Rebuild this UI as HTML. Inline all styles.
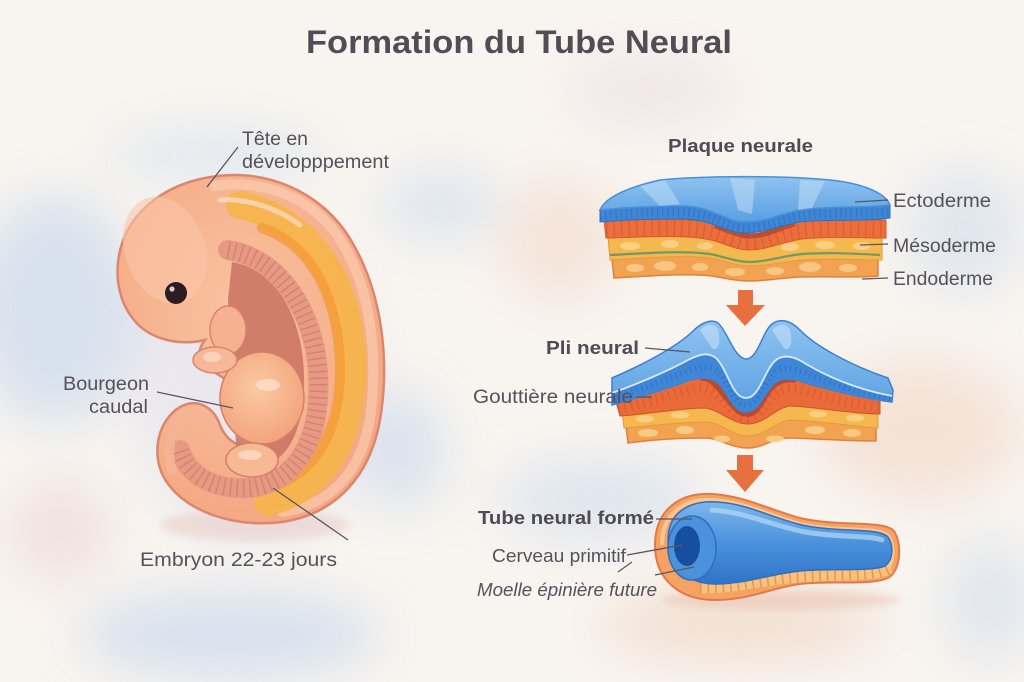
<!DOCTYPE html>
<html><head><meta charset="utf-8">
<style>
html,body{margin:0;padding:0;background:#f8f4ef;}
svg{display:block;}
text{font-family:"Liberation Sans",sans-serif;fill:#56515b;}
</style></head>
<body>
<svg width="1024" height="682" viewBox="0 0 1024 682" xmlns="http://www.w3.org/2000/svg">
<defs>
<filter id="blur" x="-50%" y="-50%" width="200%" height="200%"><feGaussianBlur stdDeviation="24"/></filter>
<filter id="sblur" x="-20%" y="-20%" width="140%" height="140%"><feGaussianBlur stdDeviation="4"/></filter>
<linearGradient id="blueTop" x1="0" y1="0" x2="0" y2="1"><stop offset="0" stop-color="#8ec3f0"/><stop offset="1" stop-color="#5a9fe2"/></linearGradient>
<linearGradient id="tubeG" x1="0" y1="0" x2="0" y2="1"><stop offset="0" stop-color="#7db6ec"/><stop offset="0.5" stop-color="#4b92dc"/><stop offset="1" stop-color="#2f74c8"/></linearGradient>
<radialGradient id="bodyG" cx="0.45" cy="0.4" r="0.7"><stop offset="0" stop-color="#f9c3a2"/><stop offset="1" stop-color="#f3a47e"/></radialGradient>
<radialGradient id="bellyG" cx="0.45" cy="0.4" r="0.6"><stop offset="0" stop-color="#fbcaa2"/><stop offset="1" stop-color="#f3a47c"/></radialGradient>
</defs>

<!-- watercolor background -->
<rect width="1024" height="682" fill="#f8f4ef"/>
<g filter="url(#blur)" opacity="0.85">
<ellipse cx="55" cy="310" rx="85" ry="115" fill="#d3dfee"/>
<ellipse cx="230" cy="635" rx="150" ry="45" fill="#d3dfee"/>
<ellipse cx="400" cy="450" rx="45" ry="60" fill="#d6e0ee"/>
<ellipse cx="440" cy="205" rx="60" ry="35" fill="#dbe4f0"/>
<ellipse cx="215" cy="155" rx="110" ry="25" fill="#dde6f0"/>
<ellipse cx="600" cy="500" rx="100" ry="40" fill="#dbe3ef"/>
<ellipse cx="965" cy="230" rx="60" ry="60" fill="#dde4ef"/>
<ellipse cx="990" cy="600" rx="45" ry="60" fill="#dde4ee"/>
<ellipse cx="60" cy="530" rx="50" ry="50" fill="#efdede"/>
<ellipse cx="920" cy="430" rx="100" ry="70" fill="#f4e0d3"/>
<ellipse cx="560" cy="240" rx="60" ry="60" fill="#f4e2d6"/>
<ellipse cx="740" cy="625" rx="140" ry="35" fill="#f2dccd"/>
<ellipse cx="650" cy="90" rx="80" ry="35" fill="#f0e4e7"/>
<ellipse cx="250" cy="380" rx="120" ry="160" fill="#e8e6ee"/>
</g>

<!-- title -->
<text x="306" y="53" font-size="32" font-weight="bold" textLength="426" lengthAdjust="spacingAndGlyphs" style="fill:#514c55">Formation du Tube Neural</text>

<!-- ================= EMBRYO ================= -->
<g>
<ellipse cx="255" cy="525" rx="95" ry="16" fill="#e7c9c2" opacity="0.5" filter="url(#sblur)"/>
<path d="M205,178 C262,166 322,190 352,242 C382,293 390,360 380,420 C370,476 336,514 282,522 C232,528 186,511 166,481 C150,456 157,421 180,407 C198,397 214,408 220,425 C226,440 238,448 252,447 L250,395 L214,372 C198,368 195,352 205,340 C180,346 150,340 134,320 C112,294 112,250 134,220 C154,194 180,183 205,178 Z" fill="url(#bodyG)" stroke="#db8670" stroke-width="2.5"/>
<!-- pale outer rim -->
<path d="M215,186 C266,178 318,200 344,246 C372,294 378,360 370,418 C362,470 332,505 282,512" fill="none" stroke="#fbd3bd" stroke-width="10" stroke-linecap="round" opacity="0.55"/>
<!-- yellow band -->
<path d="M240,205 C305,218 350,280 352,360 C354,430 328,488 268,502" fill="none" stroke="#f6b54a" stroke-width="28" stroke-linecap="round" opacity="0.9"/>
<path d="M262,228 C314,246 338,300 340,365 C341,428 318,474 268,488" fill="none" stroke="#f39a34" stroke-width="10" stroke-linecap="round" opacity="0.75"/>
<!-- inner cavity -->
<path d="M232,262 C278,270 304,320 304,380 C304,430 288,460 262,466 L236,445 L228,300 Z" fill="#c97260" opacity="0.85"/>
<!-- somite strip -->
<path d="M228,250 C280,258 314,312 318,372 C322,438 298,482 250,488 C214,490 188,476 180,450" fill="none" stroke="#e69a84" stroke-width="20" stroke-linecap="round"/>
<path d="M228,250 C280,258 314,312 318,372 C322,438 298,482 250,488 C214,490 188,476 180,450" fill="none" stroke="#c9705f" stroke-width="18" stroke-dasharray="1.5 5" opacity="0.55"/>
<!-- tail -->
<path d="M172,470 C165,448 172,420 190,414 C205,410 214,425 218,440" fill="none" stroke="#f5b497" stroke-width="10" stroke-linecap="round" opacity="0.8"/>
<!-- belly -->
<ellipse cx="262" cy="398" rx="42" ry="46" fill="url(#bellyG)" stroke="#d67e68" stroke-width="1.5"/>
<ellipse cx="268" cy="385" rx="12" ry="6" fill="#fde0cc" opacity="0.8"/>
<!-- lower bump -->
<ellipse cx="252" cy="460" rx="26" ry="17" fill="#f7b994" stroke="#d67e68" stroke-width="1.5"/>
<ellipse cx="250" cy="455" rx="12" ry="5" fill="#fcdcc6" opacity="0.8"/>
<!-- forelimb / arches -->
<ellipse cx="228" cy="330" rx="18" ry="24" fill="#f6b192" stroke="#d98470" stroke-width="1.5"/>
<ellipse cx="215" cy="360" rx="22" ry="13" fill="#f7b898" stroke="#d98470" stroke-width="1.5"/>
<ellipse cx="212" cy="357" rx="9" ry="5" fill="#fcd8c2" opacity="0.8"/>
<!-- head highlight -->
<ellipse cx="165" cy="250" rx="40" ry="55" fill="#fac6a8" opacity="0.6" transform="rotate(-20 165 250)"/>
<path d="M220,200 C250,198 280,210 300,225" fill="none" stroke="#fbe0cc" stroke-width="5" stroke-linecap="round" opacity="0.7"/>
<!-- eye -->
<circle cx="176" cy="293" r="11" fill="#2c1b20"/>
<circle cx="172" cy="289" r="2.6" fill="#fff" opacity="0.8"/>
</g>
<g stroke="#5a5560" stroke-width="1.3" fill="none">
<line x1="238" y1="147" x2="207" y2="187"/>
<line x1="157" y1="392" x2="233" y2="408"/>
<line x1="273" y1="488" x2="348" y2="540"/>
</g>
<text x="242" y="145" font-size="19" textLength="66" lengthAdjust="spacingAndGlyphs">Tête en</text>
<text x="242" y="168" font-size="19" textLength="147" lengthAdjust="spacingAndGlyphs">développpement</text>
<text x="63" y="390" font-size="19" textLength="86" lengthAdjust="spacingAndGlyphs">Bourgeon</text>
<text x="89" y="413" font-size="19" textLength="59" lengthAdjust="spacingAndGlyphs">caudal</text>
<text x="140" y="566" font-size="19" textLength="197" lengthAdjust="spacingAndGlyphs">Embryon 22-23 jours</text>

<!-- ================= PLAQUE NEURALE ================= -->
<text x="668" y="152" font-size="18" font-weight="bold" textLength="145" lengthAdjust="spacingAndGlyphs" style="fill:#4f4a53">Plaque neurale</text>
<g>
<path d="M612,259 C650,257 690,253 715,258 C730,262 740,265 750,265 C766,265 782,259 802,258 C832,256 862,258 878,258 L878,276 C860,278 830,276 800,277 C780,278 765,281 750,281 C735,281 725,278 712,276 C690,273 650,276 614,278 Z" fill="#f2a352" stroke="#e0803c" stroke-width="1.5"/>
<g fill="#f9cf8e" opacity="0.8">
<ellipse cx="635" cy="268" rx="9" ry="4"/><ellipse cx="665" cy="266" rx="11" ry="5"/><ellipse cx="700" cy="267" rx="8" ry="4"/><ellipse cx="735" cy="272" rx="10" ry="4"/><ellipse cx="775" cy="271" rx="9" ry="4"/><ellipse cx="810" cy="267" rx="11" ry="5"/><ellipse cx="848" cy="268" rx="9" ry="4"/>
</g>
<path d="M608,237 C650,236 690,233 715,240 C730,245 740,249 750,249 C766,249 782,241 802,238 C832,235 862,237 882,237 L882,260 C862,260 832,258 802,260 C782,262 766,266 750,266 C738,266 728,262 715,259 C690,254 650,258 610,260 Z" fill="#f5b84f" stroke="#e8973d" stroke-width="1"/>
<g fill="#fad48e" opacity="0.85">
<ellipse cx="630" cy="246" rx="10" ry="4"/><ellipse cx="670" cy="244" rx="9" ry="4"/><ellipse cx="705" cy="246" rx="8" ry="3.5"/><ellipse cx="790" cy="247" rx="9" ry="4"/><ellipse cx="825" cy="245" rx="10" ry="4"/><ellipse cx="862" cy="246" rx="9" ry="4"/>
</g>
<path d="M610,255 C650,253 690,250 715,255 C730,259 740,262 750,262 C766,262 782,256 802,254 C832,252 862,254 880,255" fill="none" stroke="#6f9a66" stroke-width="2.2"/>
<path d="M604,220 C650,219 690,217 715,224 C732,230 740,234 750,234 C766,234 782,224 802,221 C832,218 862,220 886,220 L886,238 C862,238 832,236 802,239 C782,242 766,250 750,250 C738,250 730,246 715,241 C690,234 650,237 606,238 Z" fill="#ec6e3d" stroke="#d35a30" stroke-width="1"/>
<path d="M606,229 C650,228 690,226 715,232 C732,238 740,242 750,242 C766,242 782,232 802,230 C832,227 862,229 886,229" fill="none" stroke="#c9542c" stroke-width="16" stroke-dasharray="1.5 6" opacity="0.5"/>
<path d="M715,226 C732,232 740,236 750,236 C766,236 782,227 795,224" fill="none" stroke="#a8412c" stroke-width="5" opacity="0.7"/>
<path d="M600,210 C620,208 650,206 680,206 C710,205 725,222 745,222 C765,222 780,214 800,210 C830,206 870,208 890,205 L890,218 C860,222 820,219 800,222 C780,225 765,233 745,233 C725,233 710,218 680,219 C650,219 620,220 600,222 Z" fill="#3f86d6" stroke="#2e6fc0" stroke-width="1"/>
<path d="M600,216 C620,214 650,212 680,212 C710,211 725,228 745,228 C765,228 780,220 800,216 C830,212 870,214 890,212" fill="none" stroke="#2c68b8" stroke-width="9" stroke-dasharray="1.2 4" opacity="0.5"/>
<path d="M600,210 C605,198 625,188 660,180 C700,176 780,175 830,180 C860,183 885,192 890,205 C870,208 830,206 800,210 C780,214 765,222 745,222 C725,222 710,205 680,206 C650,206 620,208 600,210 Z" fill="url(#blueTop)" stroke="#4a8fd8" stroke-width="1.5"/>
<g fill="#c6e0f7" opacity="0.5">
<path d="M640,186 L665,180 L680,204 L660,206 Z"/><path d="M730,178 L755,180 L752,214 L738,210 Z"/><path d="M800,180 L825,181 L812,208 L798,210 Z"/>
</g>
</g>
<g stroke="#5a5560" stroke-width="1.3" fill="none">
<line x1="855" y1="202" x2="888" y2="200"/>
<line x1="860" y1="245" x2="888" y2="244"/>
<line x1="862" y1="279" x2="888" y2="278"/>
</g>
<text x="893" y="207" font-size="19" textLength="98" lengthAdjust="spacingAndGlyphs">Ectoderme</text>
<text x="893" y="252" font-size="19" textLength="103" lengthAdjust="spacingAndGlyphs">Mésoderme</text>
<text x="893" y="285" font-size="19" textLength="100" lengthAdjust="spacingAndGlyphs">Endoderme</text>

<!-- arrow 1 -->
<path d="M738,290 L753,290 L753,305 L765,305 L745,326 L726,305 L738,305 Z" fill="#e8703f"/>

<!-- ================= PLI NEURAL ================= -->
<g>
<!-- lower layer -->
<path d="M626,426 C650,424 680,420 705,420 C720,422 732,434 748,434 C765,434 775,420 790,418 C810,418 850,424 876,426 L876,441 C850,441 800,438 790,438 C770,438 765,448 748,448 C730,448 720,438 705,438 C680,438 650,440 628,443 Z" fill="#f2a352" stroke="#e0803c" stroke-width="1.5"/>
<g fill="#fad28c" opacity="0.85">
<ellipse cx="648" cy="433" rx="10" ry="4"/><ellipse cx="685" cy="430" rx="9" ry="4"/><ellipse cx="722" cy="439" rx="8" ry="3.5"/><ellipse cx="775" cy="439" rx="9" ry="3.5"/><ellipse cx="815" cy="430" rx="10" ry="4"/><ellipse cx="852" cy="433" rx="9" ry="4"/>
</g>
<!-- yellow -->
<path d="M622,412 C650,411 680,406 705,406 C720,408 732,422 748,422 C765,422 775,406 790,404 C810,404 850,411 878,412 L878,428 C850,426 810,420 790,420 C775,422 765,436 748,436 C732,436 720,422 705,422 C680,422 650,426 624,428 Z" fill="#f5b84f" stroke="#e8973d" stroke-width="1"/>
<g fill="#fad28c" opacity="0.85">
<ellipse cx="645" cy="419" rx="9" ry="3.5"/><ellipse cx="680" cy="415" rx="9" ry="3.5"/><ellipse cx="818" cy="414" rx="9" ry="3.5"/><ellipse cx="855" cy="418" rx="9" ry="3.5"/>
</g>
<!-- orange -->
<path d="M616,402 C645,394 672,383 690,374 C702,369 712,370 722,380 C733,395 738,406 746,406 C756,406 760,394 770,380 C780,370 792,370 806,376 C830,386 858,396 880,400 L880,414 C850,414 810,406 790,406 C775,408 765,424 748,424 C732,424 720,410 705,408 C680,408 650,414 620,416 Z" fill="#ea6a3a" stroke="#c9542c" stroke-width="1"/>
<path d="M618,409 C648,403 675,394 695,388 C710,385 722,398 732,410 C738,416 742,418 748,418 C756,418 762,408 772,396 C782,386 795,388 808,392 C832,400 858,405 880,407" fill="none" stroke="#c9542c" stroke-width="10" stroke-dasharray="1.5 5" opacity="0.5"/>
<path d="M700,378 C712,376 720,390 730,402 C738,412 742,414 748,414 C756,414 760,404 768,392 C776,380 786,378 796,380" fill="none" stroke="#a8412c" stroke-width="6" opacity="0.75"/>
<!-- blue full -->
<path d="M612,378 C640,366 675,348 692,332 C700,324 710,318 718,323 C728,332 734,358 746,359 C758,359 762,332 772,324 C780,318 790,320 800,330 C815,346 852,366 888,378 L893,390 L892,402 C860,398 830,390 806,383 C792,378 780,377 772,386 C762,398 758,412 746,412 C734,412 730,398 720,385 C712,377 702,377 690,380 C670,388 640,397 612,405 Z" fill="url(#blueTop)" stroke="#3c80d0" stroke-width="1.5"/>
<!-- front face darker -->
<path d="M612,393 C640,383 670,370 688,360 C700,354 708,352 716,358 C728,370 732,398 746,398 C760,398 764,370 776,360 C784,354 794,356 806,364 C830,378 860,390 892,396 L892,402 C860,398 830,390 806,383 C792,378 780,377 772,386 C762,398 758,412 746,412 C734,412 730,398 720,385 C712,377 702,377 690,380 C670,388 640,397 612,405 Z" fill="#3f86d6"/>
<path d="M612,399 C640,390 670,378 690,370 C702,366 712,366 720,373 C730,384 734,405 746,405 C758,405 762,384 774,373 C782,366 794,368 806,373 C830,384 860,393 892,399" fill="none" stroke="#2c68b8" stroke-width="6" stroke-dasharray="1.2 4" opacity="0.55"/>
<path d="M612,393 C640,383 670,370 688,360 C700,354 708,352 716,358 C728,370 732,398 746,398 C760,398 764,370 776,360 C784,354 794,356 806,364 C830,378 860,390 892,396" fill="none" stroke="#e8f3fc" stroke-width="1.8" opacity="0.9"/>
<path d="M700,330 C706,324 714,322 718,330 C722,345 716,352 712,348 Z" fill="#c6e0f7" opacity="0.6"/>
<path d="M772,330 C778,324 786,322 790,330 C794,345 788,352 784,348 Z" fill="#c6e0f7" opacity="0.6"/>
</g>
<g stroke="#5a5560" stroke-width="1.3" fill="none">
<line x1="645" y1="348" x2="690" y2="352"/>
<line x1="636" y1="397" x2="652" y2="397"/>
</g>
<text x="546" y="354" font-size="18" font-weight="bold" textLength="93" lengthAdjust="spacingAndGlyphs" style="fill:#4f4a53">Pli neural</text>
<text x="473" y="403" font-size="19" textLength="160" lengthAdjust="spacingAndGlyphs">Gouttière neurale</text>

<!-- arrow 2 -->
<path d="M737,455 L753,455 L753,470 L764,470 L745,492 L726,470 L737,470 Z" fill="#e8703f"/>

<!-- ================= TUBE ================= -->
<g>
<ellipse cx="780" cy="600" rx="120" ry="10" fill="#e8c0ad" opacity="0.5" filter="url(#sblur)"/>
<path d="M655,545 C655,510 680,492 712,494 C745,496 770,510 800,518 C840,527 880,520 893,530 C902,540 902,570 888,578 C870,586 830,580 800,584 C770,588 750,600 715,600 C680,600 655,580 655,545 Z" fill="#f5a263" stroke="#e07a4a" stroke-width="2"/>
<path d="M662,545 C662,514 684,498 712,500 C745,502 770,516 800,524 C840,533 878,526 888,536 C895,545 894,566 884,572" fill="none" stroke="#fbcf9e" stroke-width="4" opacity="0.8"/>
<path d="M700,588 C740,588 770,578 800,577 C840,574 875,577 890,568" fill="none" stroke="#f8c27e" stroke-width="11"/>
<path d="M700,588 C740,588 770,578 800,577 C840,574 875,577 890,568" fill="none" stroke="#e08a45" stroke-width="11" stroke-dasharray="1.5 6" opacity="0.8"/>
<path d="M668,540 C668,512 690,500 718,502 C748,504 772,518 802,525 C840,533 878,527 888,537 C894,546 893,560 885,566 C870,572 830,568 800,571 C770,574 745,584 715,584 C688,584 668,566 668,540 Z" fill="url(#tubeG)" stroke="#2f6fc0" stroke-width="1.5"/>
<path d="M712,510 C745,512 770,525 805,532 C840,538 870,535 882,540" fill="none" stroke="#b5d8f6" stroke-width="5" stroke-linecap="round" opacity="0.7"/>
<ellipse cx="692" cy="548" rx="24" ry="32" fill="#4b92dc" stroke="#2f6fc0" stroke-width="1.5"/>
<ellipse cx="687" cy="546" rx="13" ry="20" fill="#164f9f"/>
</g>
<g stroke="#5a5560" stroke-width="1.3" fill="none">
<line x1="656" y1="519" x2="692" y2="519"/>
<line x1="627" y1="555" x2="682" y2="545"/>
<line x1="618" y1="572" x2="632" y2="562"/>
<line x1="655" y1="575" x2="694" y2="567"/>
</g>
<text x="478" y="524" font-size="18" font-weight="bold" textLength="176" lengthAdjust="spacingAndGlyphs" style="fill:#4f4a53">Tube neural formé</text>
<text x="492" y="562" font-size="18" textLength="134" lengthAdjust="spacingAndGlyphs">Cerveau primitif</text>
<text x="477" y="596" font-size="18" font-style="italic" textLength="180" lengthAdjust="spacingAndGlyphs">Moelle épinière future</text>
</svg>
</body></html>
